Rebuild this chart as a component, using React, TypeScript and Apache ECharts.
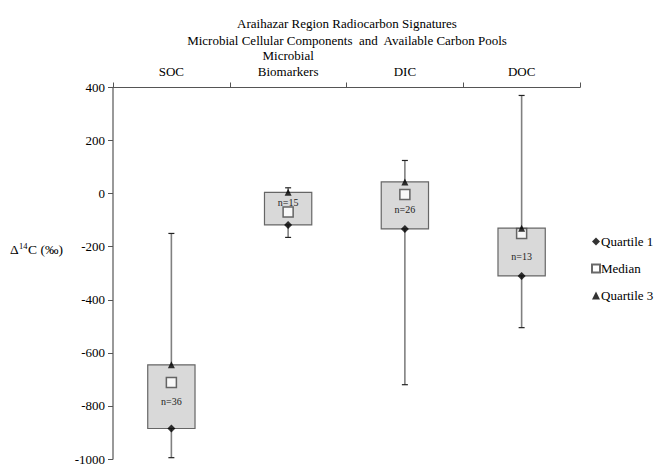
import React, { useEffect, useRef } from "react";
import * as echarts from "echarts";

const categories = ["SOC", "Microbial\nBiomarkers", "DIC", "DOC"];
const minValues = [-995, -165, -720, -505];
const q1Values = [-885, -118, -133, -310];
const medianValues = [-712, -69, -3, -150];
const q3Values = [-645, 5, 44, -130];
const maxValues = [-150, 22, 125, 370];
const nLabels = ["n=36", "n=15", "n=26", "n=13"];
const nLabelAt = [-785, -32, -58, -235];
const yTicks = { min: -1000, max: 400, interval: 200 };

const FONT = "Liberation Serif";

export default function App() {
  const ref = useRef<HTMLDivElement>(null);
  useEffect(() => {
    if (!ref.current) return;
    const chart = echarts.init(ref.current, undefined, { renderer: "svg" });
    const boxData = categories.map((c, i) => [
      i,
      minValues[i],
      q1Values[i],
      medianValues[i],
      q3Values[i],
      maxValues[i],
      nLabelAt[i],
    ]);
    const option: any = {
      animation: false,
      backgroundColor: "#ffffff",
      textStyle: { fontFamily: FONT, color: "#000", fontWeight: "normal" },
      title: {
        text: "Araihazar Region Radiocarbon Signatures\nMicrobial Cellular Components  and  Available Carbon Pools",
        left: 342,
        textAlign: "center",
        top: 10,
        textStyle: {
          fontFamily: FONT,
          fontSize: 13,
          fontWeight: "normal",
          color: "#000",
          lineHeight: 17,
        },
      },
      legend: {
        orient: "vertical",
        left: 586,
        top: 230,
        itemWidth: 8,
        itemHeight: 8,
        itemGap: 14,
        data: ["Quartile 1", "Median", "Quartile 3"],
        textStyle: {
          fontFamily: FONT,
          fontSize: 13,
          fontWeight: "normal",
          color: "#000",
          padding: [0, 0, 0, -4],
        },
      },
      grid: { left: 113, right: 75, top: 87.5, bottom: 9 },
      xAxis: {
        type: "category",
        position: "top",
        data: categories,
        axisLine: { onZero: false, lineStyle: { color: "#555", width: 1 } },
        axisTick: { show: true, length: 5, lineStyle: { color: "#555" } },
        axisLabel: {
          fontFamily: FONT,
          fontSize: 13,
          fontWeight: "normal",
          color: "#000",
          margin: 8,
          lineHeight: 16,
        },
      },
      yAxis: {
        type: "value",
        min: yTicks.min,
        max: yTicks.max,
        interval: yTicks.interval,
        splitLine: { show: false },
        axisLine: { show: true, lineStyle: { color: "#777", width: 1.5 } },
        axisTick: { show: true, length: 5, lineStyle: { color: "#555" } },
        axisLabel: {
          fontFamily: FONT,
          fontSize: 13,
          fontWeight: "normal",
          color: "#000",
          margin: 8,
          formatter: (v: number) => String(v),
        },
      },
      graphic: [
        {
          type: "group",
          x: 10,
          y: 249,
          children: [
            {
              type: "text",
              x: 0,
              y: 0,
              style: {
                text: "Δ",
                fontFamily: FONT,
                fontSize: 13.5,
                fill: "#000",
                align: "left",
                verticalAlign: "middle",
              },
            },
            {
              type: "text",
              x: 9,
              y: -3,
              style: {
                text: "14",
                fontFamily: FONT,
                fontSize: 8.5,
                fill: "#000",
                align: "left",
                verticalAlign: "middle",
              },
            },
            {
              type: "text",
              x: 18,
              y: 0,
              style: {
                text: "C (‰)",
                fontFamily: FONT,
                fontSize: 13.5,
                fill: "#000",
                align: "left",
                verticalAlign: "middle",
              },
            },
          ],
        },
      ],
      series: [
        {
          type: "custom",
          name: "boxes",
          data: boxData,
          encode: { x: 0, y: [1, 2, 3, 4, 5] },
          z: 2,
          renderItem: (params: any, api: any) => {
            const idx = api.value(0);
            const x = api.coord([idx, 0])[0];
            const yMin = api.coord([idx, api.value(1)])[1];
            const yQ1 = api.coord([idx, api.value(2)])[1];
            const yQ3 = api.coord([idx, api.value(4)])[1];
            const yMax = api.coord([idx, api.value(5)])[1];
            const yLab = api.coord([idx, api.value(6)])[1];
            const band = api.size([1, 0])[0];
            const w = band * 0.405;
            const cap = 3;
            return {
              type: "group",
              children: [
                {
                  type: "line",
                  shape: { x1: x, y1: yMax, x2: x, y2: yMin },
                  style: { stroke: "#808080", lineWidth: 1.6 },
                },
                {
                  type: "line",
                  shape: { x1: x - cap, y1: yMax, x2: x + cap, y2: yMax },
                  style: { stroke: "#222", lineWidth: 1.2 },
                },
                {
                  type: "line",
                  shape: { x1: x - cap, y1: yMin, x2: x + cap, y2: yMin },
                  style: { stroke: "#222", lineWidth: 1.2 },
                },
                {
                  type: "rect",
                  shape: { x: x - w / 2, y: yQ3, width: w, height: yQ1 - yQ3 },
                  style: { fill: "#d9d9d9", stroke: "#666", lineWidth: 1.2 },
                },
                {
                  type: "text",
                  style: {
                    text: nLabels[idx],
                    x: x,
                    y: yLab,
                    align: "center",
                    verticalAlign: "middle",
                    fontFamily: FONT,
                    fontSize: 10,
                    fill: "#222",
                  },
                },
              ],
            };
          },
        },
        {
          type: "scatter",
          name: "Quartile 1",
          data: categories.map((c, i) => [i, q1Values[i]]),
          symbol: "diamond",
          symbolSize: 8,
          itemStyle: { color: "#000" },
          z: 4,
        },
        {
          type: "scatter",
          name: "Median",
          data: categories.map((c, i) => [i, medianValues[i]]),
          symbol: "rect",
          symbolSize: 10,
          itemStyle: { color: "#fff", borderColor: "#444", borderWidth: 1.5 },
          z: 4,
        },
        {
          type: "scatter",
          name: "Quartile 3",
          data: categories.map((c, i) => [i, q3Values[i]]),
          symbol: "triangle",
          symbolSize: 7,
          itemStyle: { color: "#000" },
          z: 4,
        },
      ],
    };
    chart.setOption(option);
    return () => chart.dispose();
  }, []);
  return (
    <div
      ref={ref}
      style={{ position: "fixed", left: 0, top: 0, width: 655, height: 468, background: "#fff" }}
    />
  );
}
